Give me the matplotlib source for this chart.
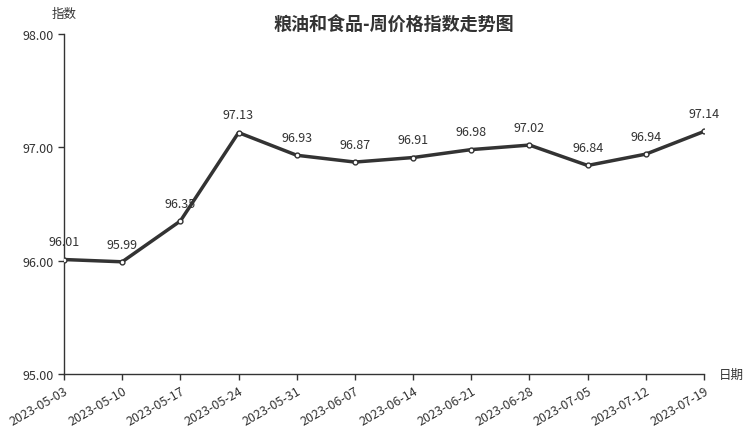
import matplotlib
matplotlib.use("Agg")
import matplotlib.pyplot as plt

plt.rcParams['font.family'] = ['Noto Sans CJK SC', 'DejaVu Sans']

dates = ["2023-05-03", "2023-05-10", "2023-05-17", "2023-05-24", "2023-05-31", "2023-06-07",
         "2023-06-14", "2023-06-21", "2023-06-28", "2023-07-05", "2023-07-12", "2023-07-19"]
values = [96.01, 95.99, 96.35, 97.13, 96.93, 96.87, 96.91, 96.98, 97.02, 96.84, 96.94, 97.14]
yticks = [95.0, 96.0, 97.0, 98.0]

C = '#333333'
fig = plt.figure(figsize=(7.52, 4.27), dpi=100)
ax = fig.add_axes([64/752, 1-375/427, 640/752, 340/427])
x = list(range(len(dates)))
ax.plot(x, values, color=C, lw=2.5, marker='o', ms=3.5, mfc='white', mec=C, mew=1, zorder=3)
for xi, v in zip(x, values):
    ax.annotate(f"{v:.2f}", (xi, v), xytext=(0, 8), textcoords='offset points',
                ha='center', va='bottom', fontsize=9, color=C)
ax.set_xlim(0, len(dates)-1)
ax.set_ylim(95, 98)
ax.set_yticks(yticks)
ax.set_yticklabels([f"{t:.2f}" for t in yticks])
ax.set_xticks(x)
ax.set_xticklabels(dates, rotation=30, ha='right', rotation_mode='anchor')
ax.tick_params(colors=C, labelsize=9, length=4, width=1)
for s in ['top', 'right']:
    ax.spines[s].set_visible(False)
for s in ['left', 'bottom']:
    ax.spines[s].set_color(C)
    ax.spines[s].set_linewidth(1)
fig.text(64/752, 1-14/427, "指数", ha='center', va='center', fontsize=9, color=C)
fig.text(731/752, 1-375/427, "日期", ha='center', va='center', fontsize=9, color=C)
fig.text(394/752, 1-24/427, "粮油和食品-周价格指数走势图", ha='center', va='center',
         fontsize=13, fontweight='bold', color=C)
fig.savefig("out.png", dpi=100)
